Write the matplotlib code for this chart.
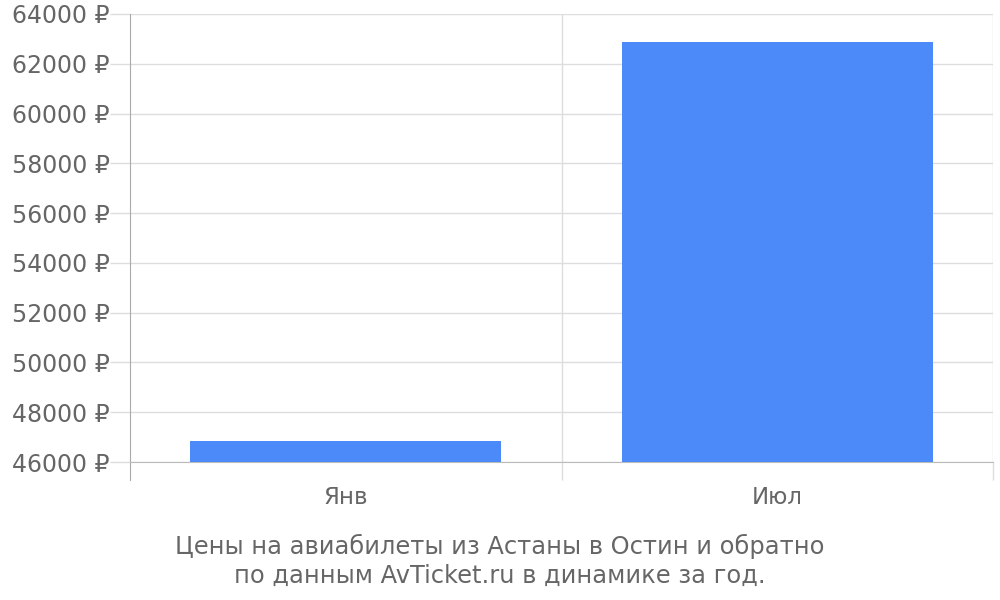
import matplotlib
matplotlib.use("Agg")
import matplotlib.pyplot as plt
from matplotlib.ticker import FuncFormatter, MultipleLocator, FixedLocator

months = ["Янв", "Июл"]
prices = [46830, 62870]
title = "Цены на авиабилеты из Астаны в Остин и обратно\nпо данным AvTicket.ru в динамике за год."

text_color = "#666666"
grid_color = "#dddddd"
bar_color = "#4d8af9"

fig = plt.figure(figsize=(10, 6), dpi=100)
ax = fig.add_axes([0.13, 0.23, 0.863, 0.7467])

base = 46000
x = list(range(len(months)))
ax.bar(x, [p - base for p in prices], bottom=base, width=0.72, color=bar_color, zorder=3)

ax.set_xlim(-0.5, len(months) - 0.5)
ax.set_ylim(46000, 64000)

ax.yaxis.set_major_locator(MultipleLocator(2000))
ax.yaxis.set_major_formatter(FuncFormatter(lambda v, p: "%d ₽" % v))
ax.tick_params(axis="y", length=14.4, width=1, color=grid_color, pad=0,
               labelsize=17, labelcolor=text_color)
ax.grid(axis="y", color=grid_color, linewidth=1, zorder=0)

ax.set_xticks(x)
ax.set_xticklabels(months)
ax.tick_params(axis="x", which="major", length=0, pad=17.5, labelsize=16.5, labelcolor=text_color)
ax.xaxis.set_minor_locator(FixedLocator([0.5, 1.5]))
ax.tick_params(axis="x", which="minor", length=13, width=1, color=grid_color)
ax.grid(axis="x", which="minor", color=grid_color, linewidth=1, zorder=0)

for s in ["top", "right"]:
    ax.spines[s].set_visible(False)
ax.spines["left"].set_color("#aaaaaa")
ax.spines["bottom"].set_color("#bbbbbb")
ax.spines["left"].set_bounds(45280, 64000)

fig.text(0.5, 0.065, title, ha="center", va="center", fontsize=17.4,
         color=text_color, linespacing=1.22)

fig.savefig("out.png", dpi=100, facecolor="white")
